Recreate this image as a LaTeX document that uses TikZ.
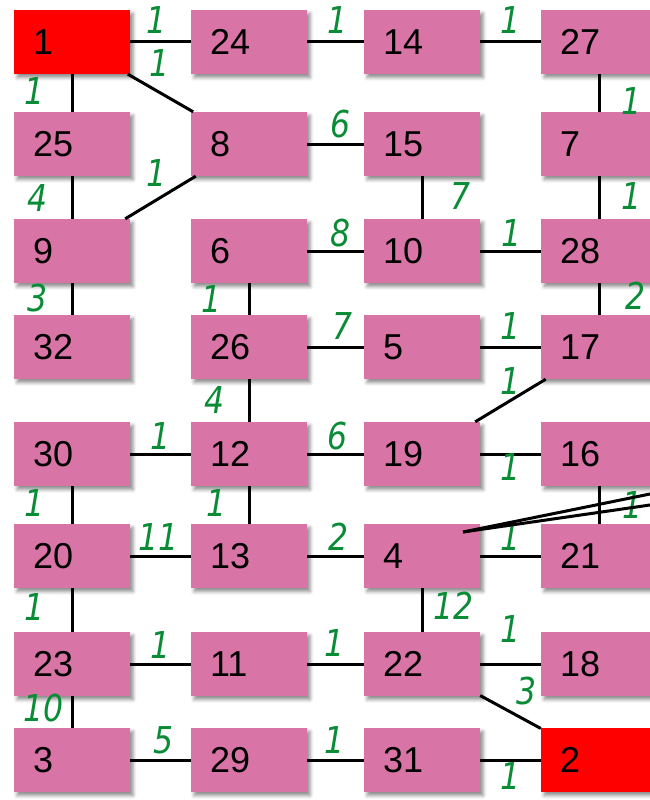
\documentclass[tikz,border=0pt]{standalone}
\usepackage{fontspec}
\setmainfont{Liberation Sans}
\newfontfamily\lblfont[FakeStretch=0.85]{DejaVu Sans}
\usetikzlibrary{shadows.blur}
\definecolor{boxpink}{RGB}{216,116,166}
\definecolor{boxred}{RGB}{255,0,0}
\definecolor{lblgreen}{RGB}{10,140,55}
\tikzset{
 nbox/.style={rectangle, fill=boxpink, minimum width=116pt, minimum height=64pt,
   text width=78pt, inner xsep=19pt, inner ysep=0pt, align=left,
   text height=25.8pt, text depth=0pt, font=\fontsize{36}{36}\selectfont,
   blur shadow={shadow xshift=3pt, shadow yshift=-3.5pt, shadow blur radius=3.5pt, shadow opacity=45}},
 rbox/.style={nbox, fill=boxred},
 edge/.style={draw=black, line width=3pt},
 wlbl/.style={text=lblgreen, font={\lblfont\fontsize{37}{37}\selectfont\itshape},
   inner sep=0pt, text height=27pt, text depth=0pt, anchor=center},
}
\begin{document}
\begin{tikzpicture}[x=1pt,y=-1pt]
\useasboundingbox (0,0) rectangle (650,800);
\clip (0,0) rectangle (650,800);
% row 0
\node[rbox] (n1)  at (72,42) {1};
\node[nbox] (n24) at (249,42) {24};
\node[nbox] (n14) at (422,42) {14};
\node[nbox] (n27) at (599,42) {27};
% row 1
\node[nbox] (n25) at (72,144) {25};
\node[nbox] (n8)  at (249,144) {8};
\node[nbox] (n15) at (422,144) {15};
\node[nbox] (n7)  at (599,144) {7};
% row 2
\node[nbox] (n9)  at (72,251) {9};
\node[nbox] (n6)  at (249,251) {6};
\node[nbox] (n10) at (422,251) {10};
\node[nbox] (n28) at (599,251) {28};
% row 3
\node[nbox] (n32) at (72,347) {32};
\node[nbox] (n26) at (249,347) {26};
\node[nbox] (n5)  at (422,347) {5};
\node[nbox] (n17) at (599,347) {17};
% row 4
\node[nbox] (n30) at (72,454) {30};
\node[nbox] (n12) at (249,454) {12};
\node[nbox] (n19) at (422,454) {19};
\node[nbox] (n16) at (599,454) {16};
% row 5
\node[nbox] (n20) at (72,556) {20};
\node[nbox] (n13) at (249,556) {13};
\node[nbox] (n4)  at (422,556) {4};
\node[nbox] (n21) at (599,556) {21};
% row 6
\node[nbox] (n23) at (72,664) {23};
\node[nbox] (n11) at (249,664) {11};
\node[nbox] (n22) at (422,664) {22};
\node[nbox] (n18) at (599,664) {18};
% row 7
\node[nbox] (n3)  at (72,760) {3};
\node[nbox] (n29) at (249,760) {29};
\node[nbox] (n31) at (422,760) {31};
\node[rbox] (n2)  at (599,760) {2};

% edges
\foreach \a/\b in {n1/n24, n24/n14, n14/n27, n1/n8, n1/n25, n27/n7, n8/n15, n8/n9,
  n25/n9, n15/n10, n7/n28, n6/n10, n10/n28, n9/n32, n6/n26, n28/n17, n26/n5, n5/n17,
  n17/n19, n26/n12, n30/n12, n12/n19, n19/n16, n16/n21, n30/n20, n12/n13, n20/n13,
  n13/n4, n4/n21, n20/n23, n4/n22, n23/n11, n11/n22, n22/n18, n22/n2, n23/n3,
  n3/n29, n29/n31, n31/n2}
  \draw[edge] (\a) -- (\b);

% weights
\node[wlbl] (w1)  at (157,20) {1};
\node[wlbl] (w2)  at (160,63) {1};
\node[wlbl] (w3)  at (35,91) {1};
\node[wlbl] (w4)  at (337,20) {1};
\node[wlbl] (w5)  at (510,20) {1};
\node[wlbl] (w6)  at (631,101) {1};
\node[wlbl] (w7)  at (340,124) {6};
\node[wlbl] (w8)  at (157,173) {1};
\node[wlbl] (w9)  at (38,198) {4};
\node[wlbl] (w10) at (460,196) {7};
\node[wlbl] (w11) at (631,196) {1};
\node[wlbl] (w12) at (340,233) {8};
\node[wlbl] (w13) at (511,233) {1};
\node[wlbl] (w14) at (38,298) {3};
\node[wlbl] (w15) at (212,299) {1};
\node[wlbl] (w16) at (635,296) {2};
\node[wlbl] (w17) at (343,326) {7};
\node[wlbl] (w18) at (510,326) {1};
\node[wlbl] (w19) at (510,381) {1};
\node[wlbl] (w20) at (215,400) {4};
\node[wlbl] (w21) at (161,436) {1};
\node[wlbl] (w22) at (338,436) {6};
\node[wlbl] (w23) at (510,467) {1};
\node[wlbl] (w24) at (35,503) {1};
\node[wlbl] (w25) at (217,503) {1};
\node[wlbl] (w26) at (632,505) {1};
\node[wlbl] (w27) at (159,537) {11};
\node[wlbl] (w28) at (339,537) {2};
\node[wlbl] (w29) at (510,537) {1};
\node[wlbl] (w30) at (35,607) {1};
\node[wlbl] (w31) at (454,606) {12};
\node[wlbl] (w32) at (161,645) {1};
\node[wlbl] (w33) at (335,643) {1};
\node[wlbl] (w34) at (510,629) {1};
\node[wlbl] (w35) at (526,691) {3};
\node[wlbl] (w36) at (44,708) {10};
\node[wlbl] (w37) at (164,740) {5};
\node[wlbl] (w38) at (335,740) {1};
\node[wlbl] (w39) at (510,776) {1};

% edges leaving the picture on the right
\coordinate (p4) at (463,532);
\coordinate (e1) at (650,494);
\coordinate (e2) at (650,505);
\draw[edge] (p4) -- (e1);
\draw[edge] (p4) -- (e2);
\end{tikzpicture}
\end{document}
